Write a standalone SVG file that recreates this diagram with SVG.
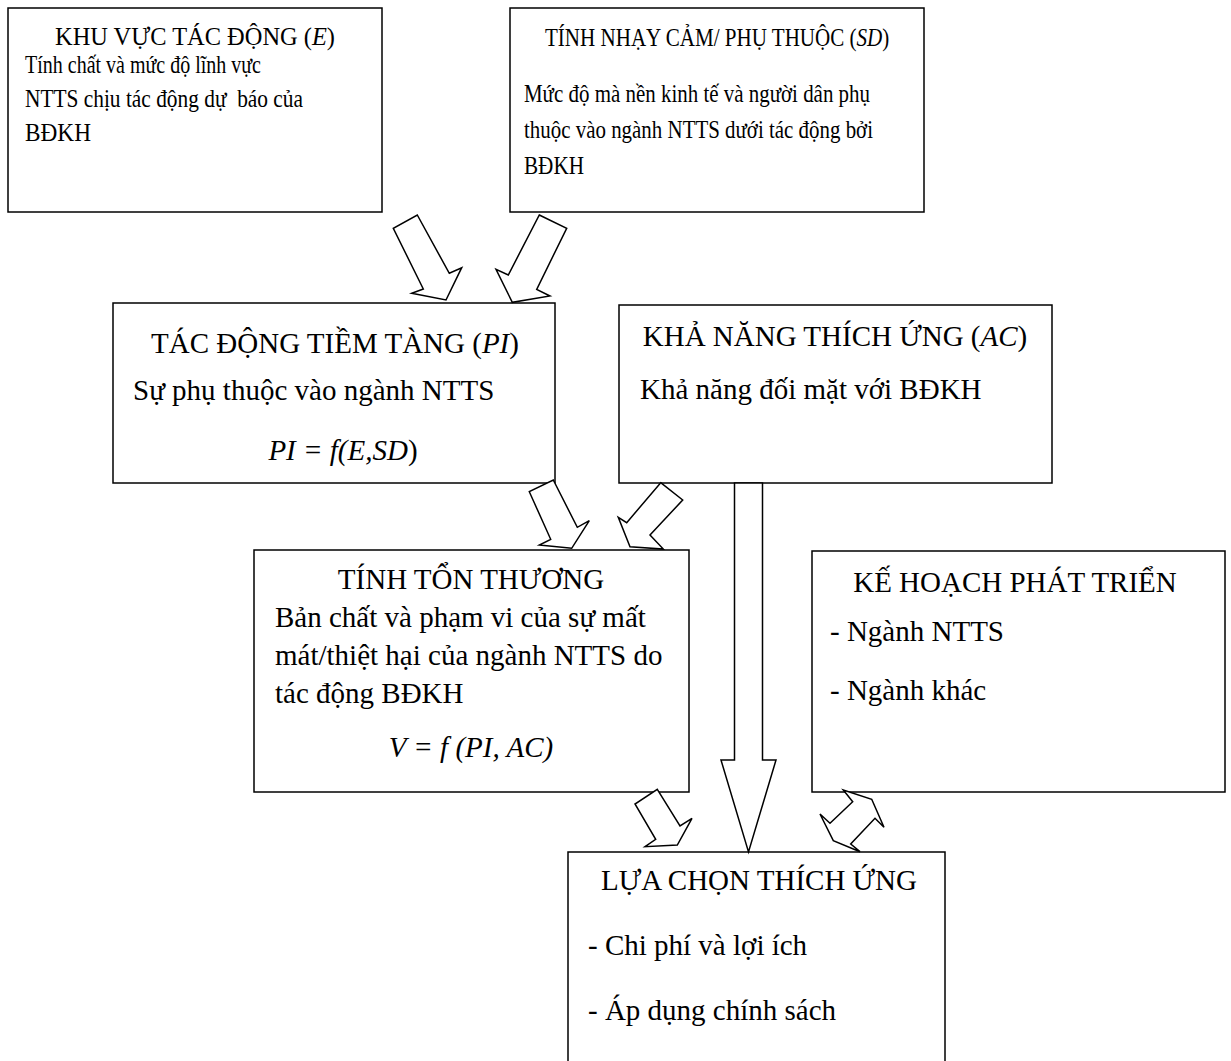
<svg xmlns="http://www.w3.org/2000/svg" width="1231" height="1061" viewBox="0 0 1231 1061">
<style>
  .box{fill:#fff;stroke:#000;stroke-width:1.5}
  .arr{fill:#fff;stroke:#000;stroke-width:1.5;stroke-linejoin:miter}
  text{font-family:"Liberation Serif","Times New Roman",serif;fill:#000}
  .s{font-size:26px}
  .m{font-size:29px}
  .c{text-anchor:middle}
  .i{font-style:italic}
</style>
<rect width="1231" height="1061" fill="#fff"/>

<g id="node-e">
  <rect class="box" x="8" y="8" width="374" height="204"/>
  <!-- title condensed horizontally -->
  <text class="s c" transform="translate(195,45) scale(0.94,1)" x="0" y="0">KHU VỰC TÁC ĐỘNG (<tspan class="i">E</tspan>)</text>
  <text class="s" x="25" y="73" textLength="236" lengthAdjust="spacingAndGlyphs">Tính chất và mức độ lĩnh vực</text>
  <text class="s" x="25" y="107" textLength="278" lengthAdjust="spacingAndGlyphs" xml:space="preserve">NTTS chịu tác động dự  báo của</text>
  <text class="s" x="25" y="141" textLength="66" lengthAdjust="spacingAndGlyphs">BĐKH</text>
</g>

<g id="node-sd">
  <rect class="box" x="510" y="8" width="414" height="204"/>
  <!-- title condensed horizontally to fit the box -->
  <text class="s" transform="translate(545,46) scale(0.81,1)" x="0" y="0">TÍNH NHẠY CẢM/ PHỤ THUỘC (<tspan class="i">SD</tspan>)</text>
  <text class="s" x="524" y="102" textLength="346" lengthAdjust="spacingAndGlyphs">Mức độ mà nền kinh tế và người dân phụ</text>
  <text class="s" x="524" y="138" textLength="349" lengthAdjust="spacingAndGlyphs">thuộc vào ngành NTTS dưới tác động bởi</text>
  <text class="s" x="524" y="174" textLength="60" lengthAdjust="spacingAndGlyphs">BĐKH</text>
</g>

<g id="node-pi">
  <rect class="box" x="113" y="303" width="442" height="180"/>
  <text class="m c" x="335" y="353">TÁC ĐỘNG TIỀM TÀNG (<tspan class="i">PI</tspan>)</text>
  <text class="m" x="133" y="400">Sự phụ thuộc vào ngành NTTS</text>
  <text class="m c" x="343" y="460"><tspan class="i">PI = f(E,SD</tspan>)</text>
</g>

<g id="node-ac">
  <rect class="box" x="619" y="305" width="433" height="178"/>
  <text class="m c" x="835" y="346">KHẢ NĂNG THÍCH ỨNG (<tspan class="i">AC</tspan>)</text>
  <text class="m" x="640" y="399">Khả năng đối mặt với BĐKH</text>
</g>

<g id="node-v">
  <rect class="box" x="254" y="550" width="435" height="242"/>
  <text class="m c" x="471" y="589">TÍNH TỔN THƯƠNG</text>
  <text class="m" x="275" y="627">Bản chất và phạm vi của sự mất</text>
  <text class="m" x="275" y="665">mát/thiệt hại của ngành NTTS do</text>
  <text class="m" x="275" y="703">tác động BĐKH</text>
  <text class="m c i" x="471" y="757">V = f (PI, AC)</text>
</g>

<g id="node-plan">
  <rect class="box" x="812" y="551" width="413" height="241"/>
  <text class="m c" x="1015" y="592">KẾ HOẠCH PHÁT TRIỂN</text>
  <text class="m" x="830" y="641">- Ngành NTTS</text>
  <text class="m" x="830" y="700">- Ngành khác</text>
</g>

<g id="node-options">
  <rect class="box" x="568" y="852" width="377" height="230"/>
  <text class="m c" x="759" y="890">LỰA CHỌN THÍCH ỨNG</text>
  <text class="m" x="588" y="955">- Chi phí và lợi ích</text>
  <text class="m" x="588" y="1020">- Áp dụng chính sách</text>
</g>

<g id="connectors">
  <!-- E -> PI -->
  <polygon class="arr" points="417.3,215 449.3,273.3 461.7,267.7 446,300 411.7,293.3 423.3,289 393.3,228.3"/>
  <!-- SD -> PI -->
  <polygon class="arr" points="539.3,215 566.7,228.3 536.7,289.3 550,296 512.3,302.3 496,269.3 508.3,275"/>
  <!-- PI -> V -->
  <polygon class="arr" points="553.3,480 577.3,527.3 589.3,520.7 571.7,548.3 539.3,545 550.7,539.3 529.3,491.7"/>
  <!-- AC -> V -->
  <polygon class="arr" points="660.7,482.7 682.7,500 650,535 663.3,549 630,546.7 618.3,517.3 626.7,522.7"/>
  <!-- AC -> options -->
  <polygon class="arr" points="734.5,483 762.5,483 762.5,760 776,760 748.5,852 721,760 734.5,760"/>
  <!-- V -> options -->
  <polygon class="arr" points="657.3,789.3 680,826 692,818.3 677.3,845 645,846.7 655.7,839.3 635,804"/>
  <!-- plan <-> options -->
  <polygon class="arr" points="871.7,799.3 884,827.3 875,818.3 850.7,844 860,851.7 833.3,840.7 820,814 830,823.3 852.7,801.7 843.3,790"/>
</g>
</svg>
